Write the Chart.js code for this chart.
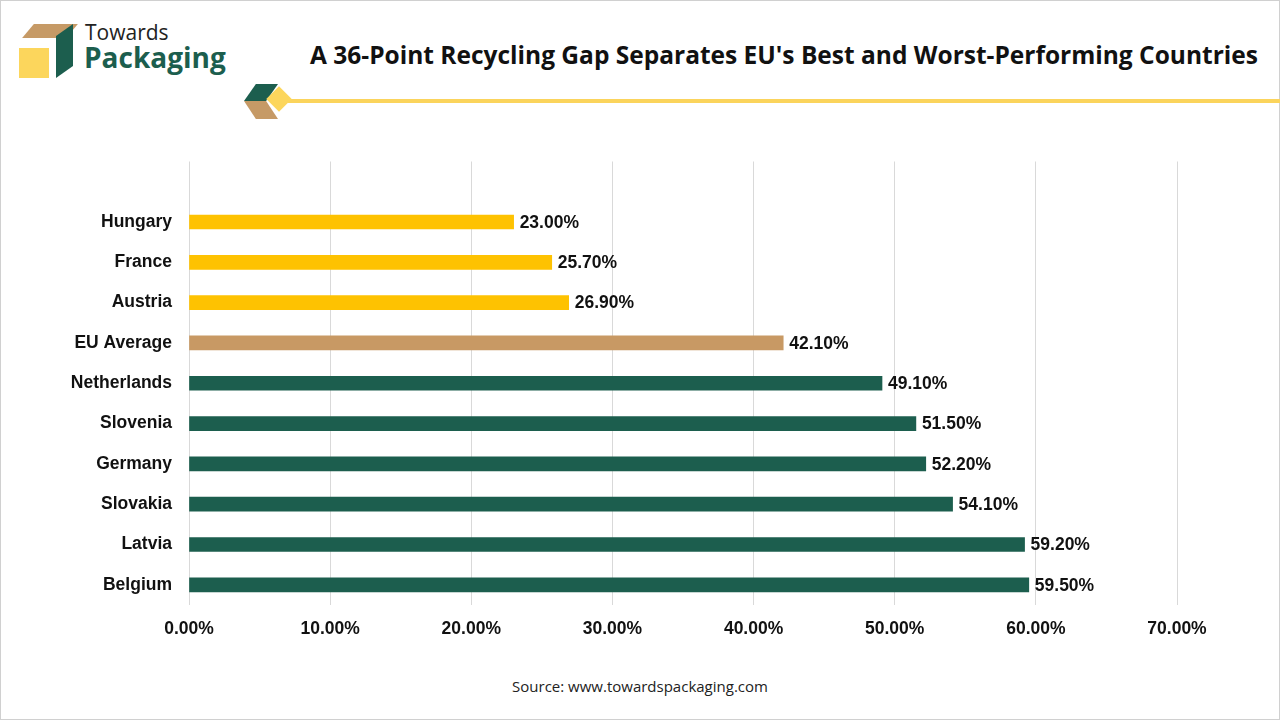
<!DOCTYPE html>
<html><head><meta charset="utf-8">
<script src="https://cdn.jsdelivr.net/npm/chart.js@4"></script>
<style>
body{margin:0;width:1280px;height:720px;position:relative;background:#fff;font-family:Roboto,'Open Sans',sans-serif;overflow:hidden}
#frame{position:absolute;left:0;top:0;width:1278px;height:718px;border:1px solid #d0d0d0}
#title{position:absolute;left:310px;top:38px;font:bold 24.5px 'Open Sans',sans-serif;color:#111;white-space:nowrap}
#line{position:absolute;left:288px;top:99px;width:992px;height:4px;background:#fbd45c}
#src{position:absolute;top:676px;left:0;width:1280px;text-align:center;font:15px 'Open Sans',sans-serif;color:#222}
#wrap{position:absolute;left:0;top:134px;width:1240px;height:516px}
.lg1{position:absolute;left:28px;top:24px;width:44px;height:14px;background:#c69a66;transform:skewX(-40deg)}
.lg2{position:absolute;left:56px;top:24px;width:17px;height:54px;background:#1c5e4e;clip-path:polygon(0 22%,100% 0,100% 78%,0 100%)}
.lg3{position:absolute;left:19px;top:48px;width:30px;height:30px;background:#fcd65c}
#t1{position:absolute;left:85px;top:18px;font:21px 'Open Sans',sans-serif;color:#222}
#t2{position:absolute;left:84px;top:38px;font:bold 28px 'Open Sans',sans-serif;color:#1c5e4e}
.d1{position:absolute;left:244px;top:84px;width:34px;height:17px;background:#1c5e4e;clip-path:polygon(35% 0,100% 0,65% 100%,0 100%)}
.d2{position:absolute;left:244px;top:101px;width:34px;height:18px;background:#c69a66;clip-path:polygon(0 0,65% 0,100% 100%,35% 100%)}
.d3{position:absolute;left:270px;top:90px;width:18px;height:18px;background:#fcd65c;transform:rotate(45deg)}
</style></head><body>
<div id="frame"></div>
<div class="lg1"></div><div class="lg2"></div><div class="lg3"></div>
<div id="t1">Towards</div><div id="t2">Packaging</div>
<div id="line"></div><div class="d1"></div><div class="d2"></div><div class="d3"></div>
<div id="title">A 36-Point Recycling Gap Separates EU's Best and Worst-Performing Countries</div>
<div id="wrap"><canvas id="c"></canvas></div>
<div id="src">Source: www.towardspackaging.com</div>
<script>
'use strict';
// first row is an empty spacer category (the plot leaves a blank band above Hungary)
const rows=[
  ['',null,'#fff'],
  ['Hungary',23.0,'#fec201'],['France',25.7,'#fec201'],['Austria',26.9,'#fec201'],
  ['EU Average',42.1,'#c89964'],['Netherlands',49.1,'#1c5e4e'],['Slovenia',51.5,'#1c5e4e'],
  ['Germany',52.2,'#1c5e4e'],['Slovakia',54.1,'#1c5e4e'],['Latvia',59.2,'#1c5e4e'],['Belgium',59.5,'#1c5e4e']
];
const FONT="'Liberation Sans', Arial, sans-serif";
const lbl={id:'lbl',afterDatasetsDraw(ch){
  const ctx=ch.ctx; ctx.save(); ctx.font='bold 17.5px '+FONT; ctx.fillStyle='#111'; ctx.textBaseline='middle';
  ch.getDatasetMeta(0).data.forEach((b,i)=>{ if(rows[i][1]!=null) ctx.fillText(rows[i][1].toFixed(2)+'%',b.x+6,b.y+1); });
  ctx.restore();
}};
Chart.defaults.font.family=FONT;
new Chart(document.getElementById('c'),{type:'bar',
  data:{labels:rows.map(r=>r[0]),datasets:[{data:rows.map(r=>r[1]),backgroundColor:rows.map(r=>r[2]),barThickness:14}]},
  options:{indexAxis:'y',responsive:true,maintainAspectRatio:false,animation:false,
    layout:{padding:{top:10,right:63,left:0,bottom:0}},
    plugins:{legend:{display:false},tooltip:{enabled:false}},
    scales:{
      x:{min:0,max:70,ticks:{stepSize:10,color:'#111',font:{size:17.5,weight:'bold'},padding:14,callback:v=>v.toFixed(2)+'%'},
         grid:{color:'#d9d9d9',drawTicks:false},border:{display:false},afterFit:s=>{s.height=45;}},
      y:{ticks:{color:'#111',font:{size:17.5,weight:'bold'},padding:17},grid:{display:false,drawTicks:false},
         border:{display:false},afterFit:s=>{s.width=189;}}
    }},
  plugins:[lbl]});
</script>
</body></html>
